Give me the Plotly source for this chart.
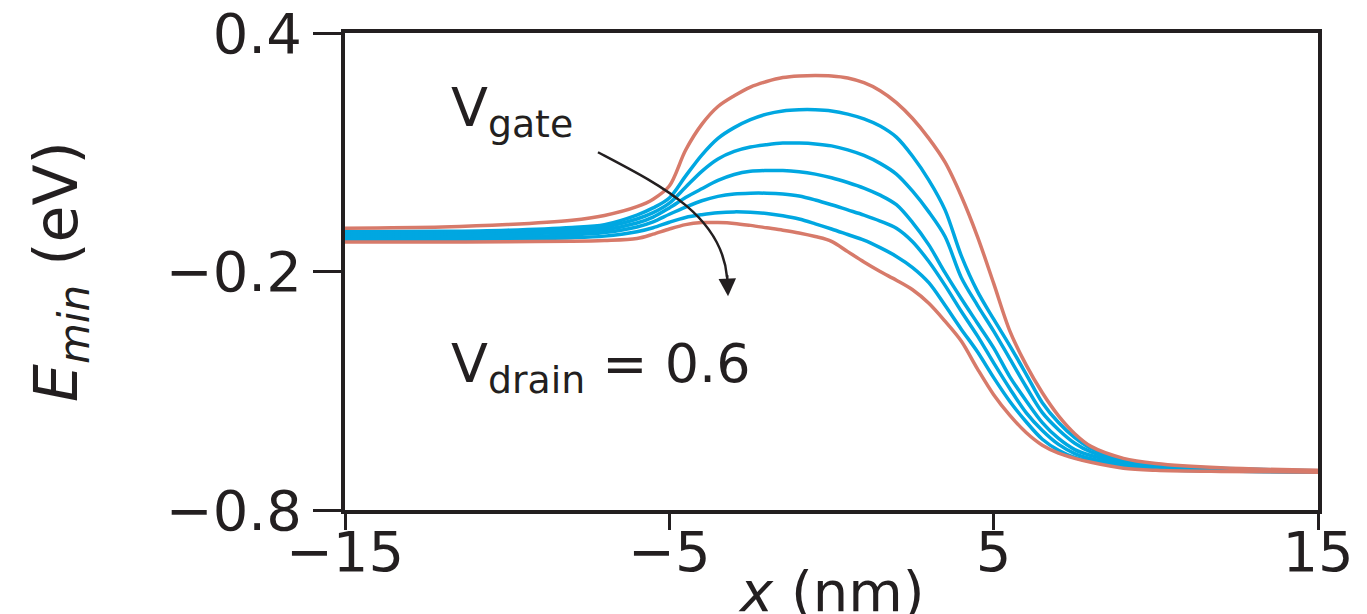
import plotly.graph_objects as go

# ---- data ----
x_nm = [-15, -12, -10, -8, -7, -6, -5.5, -5, -4.5, -4, -3.5, -3, -2.5, -2, -1.5, -1, -0.5,
        0, 0.5, 1, 1.5, 2, 2.5, 3, 3.5, 4, 4.5, 5, 5.5, 6, 6.5, 7, 7.5, 8, 9, 10, 12, 15]

red_top = [-0.091, -0.088, -0.082, -0.071, -0.059, -0.037, -0.018, 0.015, 0.105, 0.170, 0.215,
           0.242, 0.264, 0.278, 0.288, 0.292, 0.293, 0.292, 0.287, 0.275, 0.255, 0.225, 0.185,
           0.135, 0.075, -0.010, -0.112, -0.230, -0.350, -0.435, -0.505, -0.563, -0.608, -0.640,
           -0.670, -0.683, -0.694, -0.700]

blue_1 = [-0.100, -0.099, -0.096, -0.089, -0.082, -0.058, -0.040, -0.015, 0.040, 0.093, 0.135,
          0.162, 0.182, 0.196, 0.204, 0.207, 0.207, 0.204, 0.196, 0.184, 0.166, 0.138, 0.090,
          0.030, -0.045, -0.160, -0.250, -0.320, -0.387, -0.458, -0.530, -0.580, -0.618, -0.645,
          -0.673, -0.686, -0.695, -0.701]

blue_2 = [-0.105, -0.104, -0.101, -0.095, -0.088, -0.068, -0.052, -0.028, 0.012, 0.052, 0.083,
          0.102, 0.113, 0.119, 0.123, 0.123, 0.121, 0.116, 0.106, 0.092, 0.072, 0.045, 0.002,
          -0.050, -0.112, -0.215, -0.285, -0.350, -0.420, -0.490, -0.555, -0.598, -0.632, -0.654,
          -0.678, -0.689, -0.697, -0.702]

blue_3 = [-0.110, -0.109, -0.106, -0.101, -0.095, -0.078, -0.063, -0.040, -0.014, 0.008, 0.029,
          0.044, 0.052, 0.054, 0.054, 0.051, 0.045, 0.036, 0.024, 0.010, -0.008, -0.032, -0.077,
          -0.133, -0.203, -0.268, -0.330, -0.392, -0.465, -0.525, -0.580, -0.620, -0.648, -0.663,
          -0.682, -0.692, -0.699, -0.703]

blue_4 = [-0.115, -0.114, -0.112, -0.108, -0.102, -0.088, -0.075, -0.056, -0.038, -0.022, -0.011,
          -0.005, -0.003, -0.003, -0.005, -0.010, -0.020, -0.032, -0.045, -0.058, -0.073, -0.091,
          -0.125, -0.175, -0.235, -0.300, -0.362, -0.430, -0.495, -0.555, -0.600, -0.635, -0.658,
          -0.671, -0.687, -0.695, -0.701, -0.704]

blue_5 = [-0.120, -0.119, -0.118, -0.115, -0.111, -0.100, -0.090, -0.076, -0.064, -0.057, -0.052,
          -0.050, -0.051, -0.054, -0.060, -0.068, -0.080, -0.093, -0.107, -0.121, -0.140, -0.162,
          -0.190, -0.228, -0.285, -0.345, -0.402, -0.467, -0.527, -0.578, -0.622, -0.650, -0.668,
          -0.678, -0.692, -0.698, -0.702, -0.705]

red_bottom = [-0.126, -0.126, -0.125, -0.124, -0.122, -0.117, -0.106, -0.093, -0.082, -0.077,
              -0.077, -0.079, -0.084, -0.090, -0.096, -0.103, -0.112, -0.124, -0.150, -0.176,
              -0.200, -0.222, -0.246, -0.280, -0.325, -0.375, -0.445, -0.510, -0.562, -0.605,
              -0.637, -0.657, -0.670, -0.680, -0.695, -0.700, -0.703, -0.705]

x_ticks = [-15, -5, 5, 15]
y_ticks = [-0.8, -0.2, 0.4]
y_tick_text = ["\u22120.8", "\u22120.2", "0.4"]

RED = "#d77a6a"
BLUE = "#00a7e1"
INK = "#231f20"
FONT = "DejaVu Sans"

fig = go.Figure()
for ys in [blue_1, blue_2, blue_3, blue_4, blue_5]:
    fig.add_trace(go.Scatter(x=x_nm, y=ys, mode="lines",
                             line=dict(color=BLUE, width=3.5, shape="spline", smoothing=0.9),
                             showlegend=False, hoverinfo="skip"))
for ys in [red_top, red_bottom]:
    fig.add_trace(go.Scatter(x=x_nm, y=ys, mode="lines",
                             line=dict(color=RED, width=3.5, shape="spline", smoothing=0.9),
                             showlegend=False, hoverinfo="skip"))

axis_common = dict(showline=True, linecolor=INK, linewidth=4, mirror=True, automargin=False,
                   ticks="outside", tickcolor=INK, tickwidth=3, showgrid=False,
                   ticklabeloverflow="allow",
                   zeroline=False, tickfont=dict(family=FONT, size=56, color=INK))

fig.update_xaxes(range=[-15, 15], tickvals=x_ticks, ticklen=16, ticklabelstandoff=-26,
                 **axis_common)
fig.update_yaxes(range=[-0.8, 0.4], tickvals=y_ticks, ticktext=y_tick_text,
                 ticklen=28,
                 title=dict(text="<i>E</i><sub><i>min</i></sub> (eV)",
                            font=dict(family=FONT, size=60, color=INK), standoff=70),
                 **axis_common)

# x-axis title, placed just below the tick labels
fig.add_annotation(x=0.5, y=-0.17, xref="paper", yref="paper", xanchor="center",
                   yanchor="middle", text="<i>x</i> (nm)", showarrow=False,
                   font=dict(family=FONT, size=56, color=INK))

# curved arrow (V_gate increasing)
fig.add_shape(type="path", xref="x", yref="y",
              path="M -7.2,0.100 C -5.29,0.018 -3.38,-0.058 -3.22,-0.215",
              line=dict(color=INK, width=2.5))
fig.add_annotation(x=-3.19, y=-0.262, ax=-3.22, ay=-0.205, xref="x", yref="y",
                   axref="x", ayref="y", text="", showarrow=True,
                   arrowhead=2, arrowsize=1.4, arrowwidth=2.5, arrowcolor=INK)

fig.add_annotation(x=-11.78, y=0.205, xref="x", yref="y", xanchor="left", yanchor="middle",
                   text="V<sub>gate</sub>", showarrow=False,
                   font=dict(family=FONT, size=54, color=INK))
fig.add_annotation(x=-11.78, y=-0.44, xref="x", yref="y", xanchor="left", yanchor="middle",
                   text="V<sub>drain</sub> = 0.6", showarrow=False,
                   font=dict(family=FONT, size=54, color=INK))

# page body adds an 8 px margin, so the figure is 8 px smaller and shifted accordingly
fig.update_layout(width=1359, height=606, margin=dict(l=337, r=49, t=25, b=104),
                  plot_bgcolor="white", paper_bgcolor="white")

fig.write_html("out.html")
